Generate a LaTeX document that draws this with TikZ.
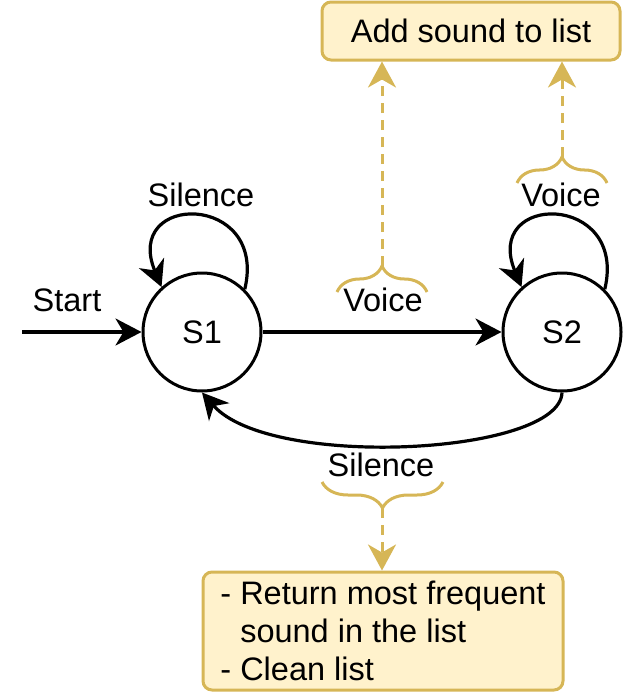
\documentclass[tikz,border=0pt]{standalone}
\usepackage{fontspec}
\setmainfont{Liberation Sans}
\usetikzlibrary{arrows.meta,positioning,decorations.pathreplacing}
\definecolor{noteline}{HTML}{D6B656}
\definecolor{notefill}{HTML}{FFF2CC}

\begin{document}
\begin{tikzpicture}[x=1pt, y=-1pt,
state/.style={draw, circle, line width=3pt, minimum size=118pt, inner sep=0pt},
note/.style={draw=noteline, fill=notefill, line width=3pt, rounded corners=9pt, inner sep=0pt},
plain/.style={draw=none, fill=none, inner sep=0pt},
hint/.style={draw=noteline, line width=3pt, dash pattern=on 10pt off 7pt, -{Stealth[length=26pt,width=28pt,inset=8pt]}},
brc/.style={draw=noteline, line width=3pt, decorate, decoration={brace, amplitude=26pt}},
>={Stealth[length=26pt,width=27pt,inset=8pt]}, line width=3.2pt,
font=\fontsize{32.5}{38}\selectfont
]
\useasboundingbox (0,0) rectangle (627,696);
% states
\node[state] (s1) at (202,332) {S1};
\node[state] (s2) at (562,332) {S2};
% notes
\node[note, minimum width=298pt, minimum height=58pt] (add) at (471,31) {Add sound to list};
\node[note, minimum width=360pt, minimum height=118pt, align=left] (ret) at (383,631)
  {- Return most frequent\\\phantom{- }sound in the list\\- Clean list};
% labels
\coordinate (start) at (22,332);
\node[plain] (startlbl) at (67,300) {Start};
\node[plain] (sil1) at (201,195) {Silence};
\node[plain] (voice1) at (383,300) {Voice};
\node[plain] (voice2) at (561,195) {Voice};
\node[plain] (sil2) at (381,465) {Silence};
% transitions
\draw[->] (start) -- (s1);
\draw[->] (s1) -- (s2);
\draw[->] (s1.45) .. controls (268,192) and (122,192) .. (s1.132);
\draw[->] (s2.45) .. controls (628,192) and (482,192) .. (s2.132);
\draw[->] (s2.south) .. controls (560,455) and (270,470) .. (s1.south);
% braces
\draw[brc] (337,292) -- (427,292);
\coordinate (v1tip) at (382,266);
\draw[brc] (517,183) -- (607,183);
\coordinate (v2tip) at (562,157);
\draw[brc] (443,482) -- (322,482);
\coordinate (s2tip) at (382,508);
% actions
\draw[hint] (v1tip) -- (v1tip |- add.south);
\draw[hint] (v2tip) -- (v2tip |- add.south);
\draw[hint] (s2tip) -- (s2tip |- ret.north);
\end{tikzpicture}
\end{document}
